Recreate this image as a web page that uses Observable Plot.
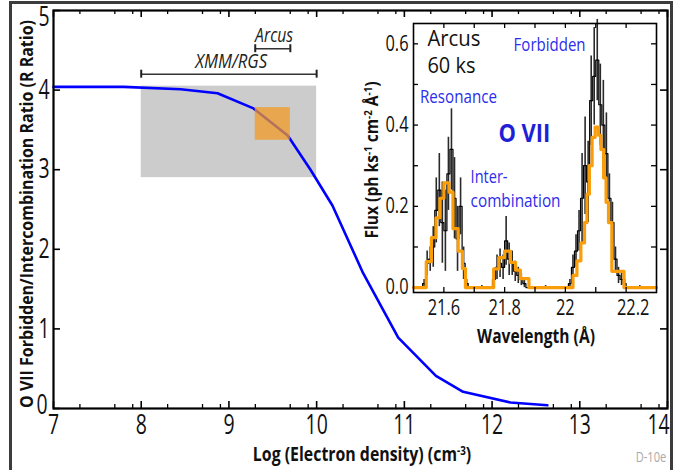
<!DOCTYPE html>
<html><head><meta charset="utf-8">
<script src="https://cdn.jsdelivr.net/npm/d3@7"></script>
<script src="https://cdn.jsdelivr.net/npm/@observablehq/plot@0.6"></script>
<style>
body{margin:0;background:#fff;}
#wrap{position:relative;width:679px;height:470px;overflow:hidden;background:#fff;font-family:"Open Sans","Noto Sans",sans-serif;}
#wrap svg{position:absolute;left:0;top:0;}
.lbl{position:absolute;white-space:nowrap;line-height:1;transform-origin:center center;}
.lbl sup{font-size:0.62em;vertical-align:0;position:relative;top:-0.55em;}
.frame{position:absolute;left:9px;top:1px;width:658px;height:520px;border:3px solid #3c3c3c;}
</style></head><body><div id="wrap"></div>
<script>
// ---------------- data: main panel ----------------
const logDensity = [7.0, 7.8, 8.45, 8.87, 9.28, 9.67, 9.93, 10.18, 10.53, 10.93, 11.36, 11.67, 12.21, 12.63];
const rRatio     = [4.04, 4.04, 4.01, 3.96, 3.77, 3.43, 3.0, 2.55, 1.70, 0.89, 0.41, 0.21, 0.075, 0.04];
const xmmDensityRange = [8.0, 10.0];
const xmmRatioRange   = [2.9, 4.05];
const arcusDensityRange = [9.3, 9.7];
const arcusRatioRange   = [3.37, 3.78];
const mainXTicks = [7, 8, 9, 10, 11, 12, 13, 14];
const mainYTicks = [0, 1, 2, 3, 4, 5];

// ---------------- data: inset spectrum ----------------
const modelLambda = [21.500,21.542,21.559,21.574,21.587,21.600,21.617,21.630,21.647,21.661,21.671,
  21.764,21.781,21.800,21.819,21.836,21.852,21.880,
  22.025,22.038,22.051,22.063,22.071,22.079,22.088,22.098,22.109,22.117,22.126,22.134,22.142,22.153,22.193,22.300];
const modelFlux = [0,0.064,0.123,0.172,0.22,0.258,0.235,0.145,0.09,0.047,0,
  0.046,0.074,0.09,0.062,0.043,0.022,0,
  0.03,0.066,0.11,0.16,0.23,0.30,0.37,0.395,0.375,0.34,0.27,0.21,0.16,0.04,0,0];

const dataLambda = [21.50,21.51,21.52,21.53,21.54,21.55,21.56,21.57,21.58,21.59,
  21.60,21.61,21.62,21.63,21.64,21.65,21.66,21.67,21.68,21.69,
  21.70,21.71,21.72,21.73,21.74,21.75,21.76,21.77,21.78,21.79,
  21.80,21.81,21.82,21.83,21.84,21.85,21.86,21.87,21.88,21.89,
  21.90,21.91,21.92,21.93,21.94,21.95,21.96,21.97,21.98,21.99,
  22.00,22.01,22.02,22.03,22.04,22.05,22.06,22.07,22.08,22.09,
  22.10,22.11,22.12,22.13,22.14,22.15,22.16,22.17,22.18,22.19,
  22.20,22.21,22.22,22.23,22.24,22.25,22.26,22.27,22.28,22.29];
const dataFlux = [0,0,0,0.01,0.06,0.07,0.10,0.19,0.24,0.16,
  0.14,0.28,0.34,0.22,0.12,0.20,0.06,0.01,0,0,
  0,0,0,0,0,0,0.02,0.05,0.06,0.05,
  0.115,0.07,0.06,0.04,0.03,0.02,0.01,0,0,0,
  0,0,0,0,0,0,0,0,0,0,
  0,0.01,0.05,0.09,0.14,0.22,0.30,0.26,0.46,0.52,
  0.56,0.45,0.40,0.33,0.22,0.16,0.07,0.03,0.02,0.01,
  0,0,0,0,0,0,0,0,0,0];
const dataErr = [0,0,0,0.01,0.03,0.03,0.05,0.08,0.09,0.10,
  0.10,0.09,0.10,0.10,0.08,0.07,0.04,0.01,0,0,
  0,0,0.005,0,0,0,0.02,0.03,0.035,0.03,
  0.06,0.04,0.03,0.025,0.02,0.015,0.01,0,0,0,
  0,0,0,0.005,0,0,0,0,0,0,
  0,0.01,0.03,0.04,0.05,0.11,0.12,0.10,0.11,0.12,
  0.10,0.10,0.11,0.10,0.06,0.05,0.03,0.02,0.015,0.01,
  0,0,0,0,0.005,0,0,0,0,0];
const insetXTicks = [21.6, 21.8, 22.0, 22.2];
const insetXMinor = [21.6, 21.7, 21.8, 21.9, 22.0, 22.1, 22.2];
const insetYTicks = [0, 0.2, 0.4, 0.6];
const insetYMinor = [0.1, 0.2, 0.3, 0.4, 0.5, 0.6];

// ---------------- build ----------------
const FONT = '"Open Sans","Noto Sans",sans-serif';
const W = 679, H = 470;
const wrap = document.getElementById("wrap");

const curve = logDensity.map((n, i) => ({n, r: rRatio[i]}));
const xmmBox = [{x1: xmmDensityRange[0], x2: xmmDensityRange[1], y1: xmmRatioRange[0], y2: xmmRatioRange[1]}];
const arcusBox = [{x1: arcusDensityRange[0], x2: arcusDensityRange[1], y1: arcusRatioRange[0], y2: arcusRatioRange[1]}];
const minorMain = [];
for (let n = 7; n < 14; n++) for (const k of [2, 5, 8]) minorMain.push(n + Math.log10(k));

// main plot geometry
const mL = 53, mR = 12, mT = 10, mB = 62;
const pxX = (W - mL - mR) / 7, pxY = (H - mT - mB) / 5;
const majY = 7 / pxY, minY = 4 / pxY, majX = 7 / pxX;

const main = Plot.plot({
  width: W, height: H, marginLeft: mL, marginRight: mR, marginTop: mT, marginBottom: mB,
  style: {fontFamily: FONT, fontSize: "27px", color: "#111", background: "transparent", overflow: "visible"},
  x: {domain: [7, 14], ticks: mainXTicks, tickFormat: d => String(d), tickSize: 0, tickPadding: 6, label: null},
  y: {domain: [0, 5], ticks: mainYTicks, tickFormat: d => String(d), tickSize: 0, tickPadding: 4, label: null},
  marks: [
    Plot.rect(xmmBox, {x1: "x1", x2: "x2", y1: "y1", y2: "y2", fill: "#cccccc"}),
    Plot.line(curve, {x: "n", y: "r", stroke: "#0000ff", strokeWidth: 2.6}),
    Plot.rect(arcusBox, {x1: "x1", x2: "x2", y1: "y1", y2: "y2", fill: "#f29a22", fillOpacity: 0.74}),
    // measurement-range bars
    Plot.ruleY([4.20], {y: d => d, x1: () => xmmDensityRange[0], x2: () => xmmDensityRange[1], stroke: "#333", strokeWidth: 1.6}),
    Plot.ruleX(xmmDensityRange, {x: d => d, y1: () => 4.15, y2: () => 4.25, stroke: "#222", strokeWidth: 2}),
    Plot.ruleY([4.52], {y: d => d, x1: () => arcusDensityRange[0], x2: () => arcusDensityRange[1], stroke: "#333", strokeWidth: 1.6}),
    Plot.ruleX(arcusDensityRange, {x: d => d, y1: () => 4.47, y2: () => 4.57, stroke: "#222", strokeWidth: 2}),
    Plot.text(["XMM/RGS"], {x: [9.025], y: [4.36], text: d => d, fontStyle: "italic", fontSize: 20, fill: "#222"}),
    Plot.text(["Arcus"], {x: [9.515], y: [4.69], text: d => d, fontStyle: "italic", fontSize: 20, fill: "#222"}),
    // inward ticks
    Plot.ruleX(mainXTicks, {x: d => d, y1: () => 0, y2: () => majY, stroke: "#000", strokeWidth: 1.6}),
    Plot.ruleX(mainXTicks, {x: d => d, y1: () => 5, y2: () => 5 - majY, stroke: "#000", strokeWidth: 1.6}),
    Plot.ruleX(minorMain, {x: d => d, y1: () => 0, y2: () => minY, stroke: "#000", strokeWidth: 1.3}),
    Plot.ruleX(minorMain, {x: d => d, y1: () => 5, y2: () => 5 - minY, stroke: "#000", strokeWidth: 1.3}),
    Plot.ruleY(mainYTicks, {y: d => d, x1: () => 7, x2: () => 7 + majX, stroke: "#000", strokeWidth: 1.6}),
    Plot.ruleY(mainYTicks, {y: d => d, x1: () => 14, x2: () => 14 - majX, stroke: "#000", strokeWidth: 1.6}),
    Plot.frame({stroke: "#000", strokeWidth: 2.2})
  ]
});
wrap.appendChild(main);

// inset geometry
const iL = 413, iR = W - 656, iT = 23, iB = H - 292;
const iyDom = [-0.012, 0.65], ixDom = [21.5, 22.3];
const ipxX = (W - iL - iR) / (ixDom[1] - ixDom[0]);
const ipxY = (H - iT - iB) / (iyDom[1] - iyDom[0]);
const itY = 5 / ipxY, itX = 5 / ipxX;
const model = modelLambda.map((l, i) => ({l, f: modelFlux[i]}));
const spec = dataLambda.map((l, i) => ({l, f: dataFlux[i], e: dataErr[i]}));
const BLUE = "#2d2deb";

const inset = Plot.plot({
  width: W, height: H, marginLeft: iL, marginRight: iR, marginTop: iT, marginBottom: iB,
  style: {fontFamily: FONT, fontSize: "21px", color: "#111", background: "transparent", overflow: "visible"},
  x: {domain: ixDom, ticks: insetXTicks, tickFormat: d => String(+d.toFixed(1)), tickSize: 0, tickPadding: 8, label: null},
  y: {domain: iyDom, ticks: insetYTicks, tickFormat: d => d.toFixed(1), tickSize: 0, tickPadding: 5, label: null},
  marks: [
    Plot.ruleX(spec.filter(d => d.e > 0), {x: d => d.l + 0.005, y1: d => Math.max(0, d.f - d.e), y2: d => d.f + d.e, stroke: "#2a2a2a", strokeWidth: 1.6}),
    Plot.line(spec, {x: "l", y: "f", curve: "step-after", stroke: "#000", strokeWidth: 1.2}),
    Plot.line(model, {x: "l", y: "f", curve: "step-after", stroke: "#f99d0a", strokeWidth: 3.2}),
    Plot.text(["Arcus"], {x: [21.546], y: [0.61], text: d => d, textAnchor: "start", fontSize: 21, fill: "#111"}),
    Plot.text(["60 ks"], {x: [21.546], y: [0.545], text: d => d, textAnchor: "start", fontSize: 21, fill: "#111"}),
    Plot.text(["Forbidden"], {x: [21.948], y: [0.596], text: d => d, fontSize: 18.5, fill: BLUE}),
    Plot.text(["Resonance"], {x: [21.648], y: [0.47], text: d => d, fontSize: 18.5, fill: BLUE}),
    Plot.text(["O VII"], {x: [21.865], y: [0.379], text: d => d, fontSize: 25, fontWeight: "bold", fill: "#1f1fd6"}),
    Plot.text(["Inter-"], {x: [21.688], y: [0.271], text: d => d, textAnchor: "start", fontSize: 18.5, fill: BLUE}),
    Plot.text(["combination"], {x: [21.688], y: [0.214], text: d => d, textAnchor: "start", fontSize: 18.5, fill: BLUE}),
    Plot.ruleX(insetXMinor, {x: d => d, y1: () => iyDom[0], y2: () => iyDom[0] + itY, stroke: "#000", strokeWidth: 1.3}),
    Plot.ruleX(insetXMinor, {x: d => d, y1: () => iyDom[1], y2: () => iyDom[1] - itY, stroke: "#000", strokeWidth: 1.3}),
    Plot.ruleY(insetYMinor, {y: d => d, x1: () => ixDom[0], x2: () => ixDom[0] + itX, stroke: "#000", strokeWidth: 1.3}),
    Plot.ruleY(insetYMinor, {y: d => d, x1: () => ixDom[1], x2: () => ixDom[1] - itX, stroke: "#000", strokeWidth: 1.3}),
    Plot.frame({stroke: "#000", strokeWidth: 1.6})
  ]
});
wrap.appendChild(inset);

// condensed lettering (Myriad Condensed look): squeeze text horizontally
function fitText(svg, defaultScale, targets, shifts) {
  svg.querySelectorAll("text").forEach(t => {
    const s0 = t.textContent;
    let s = defaultScale;
    if (targets && targets[s0] != null) { const w = t.getComputedTextLength(); if (w > 0) s = targets[s0] / w; }
    let tr = t.getAttribute("transform") || "";
    const sh = shifts && shifts[s0];
    if (sh) tr = `translate(${sh[0]},${sh[1]}) ` + tr;
    t.setAttribute("transform", (tr + ` scale(${s},1)`).trim());
    const x = t.getAttribute("x"); if (x != null) t.setAttribute("x", +x / s);
    t.querySelectorAll("tspan").forEach(ts => { const tx = ts.getAttribute("x"); if (tx != null) ts.setAttribute("x", +tx / s); });
  });
}
fitText(main, 0.72, {"XMM/RGS": 72, "Arcus": 38}, {"14": [-9, 0], "5": [0, 7], "0": [-2, -3]});
fitText(inset, 0.78, {"Arcus": 53, "60 ks": 48, "Forbidden": 72, "Resonance": 77, "O VII": 52, "Inter-": 37, "combination": 90}, {"22.2": [7, 0]});

function label(html, cx, cy, target, o) {
  const d = document.createElement("div");
  d.className = "lbl"; d.innerHTML = html;
  Object.assign(d.style, {left: cx + "px", top: cy + "px", fontSize: o.size + "px", fontWeight: o.weight || 700, color: o.color || "#111"});
  wrap.appendChild(d);
  const s = target / d.offsetWidth;
  d.style.transform = `translate(-50%,-50%) ${o.rotate ? "rotate(-90deg)" : ""} scaleX(${s})`;
}
label("Log (Electron density) (cm<sup>-3</sup>)", 362, 454, 218, {size: 19});
label("O VII Forbidden/Intercombination Ratio (R Ratio)", 26, 214, 388, {size: 18, rotate: true});
label("Flux (ph ks<sup>-1</sup> cm<sup>-2</sup> Å<sup>-1</sup>)", 371, 160, 157, {size: 17, rotate: true});
label("Wavelength (Å)", 536, 336, 118, {size: 19});
label("D-10e", 651, 457, 31, {size: 14, weight: 400, color: "#aaaaaa"});

const fr = document.createElement("div"); fr.className = "frame"; wrap.appendChild(fr);
</script></body></html>
